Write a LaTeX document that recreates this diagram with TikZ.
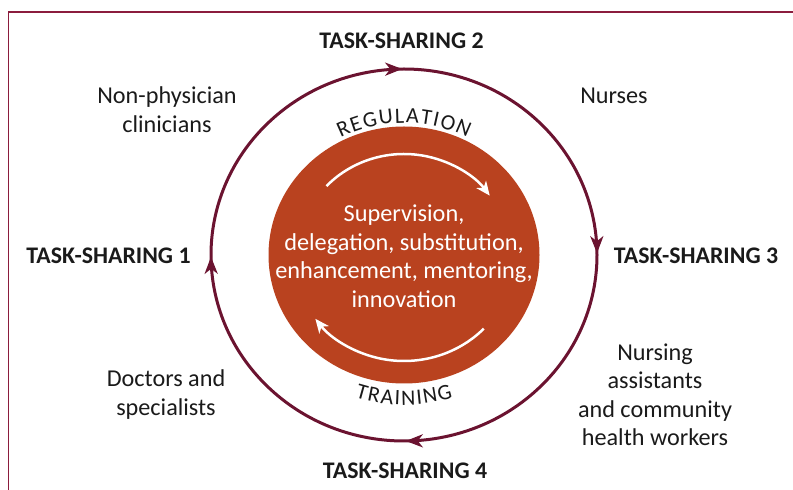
\documentclass[tikz,border=0pt]{standalone}
\usepackage{fontspec}
\setmainfont{Carlito}
\newfontfamily\arcfam[WordSpace=0.3]{Carlito}
\usetikzlibrary{arrows.meta,decorations.markings,decorations.text,shapes.geometric}
\definecolor{frameline}{HTML}{8B1C3D}
\definecolor{ring}{HTML}{6B1330}
\definecolor{core}{HTML}{B9421F}
\definecolor{ink}{HTML}{1A1A1A}

\tikzset{
  caption/.style={font=\fontsize{24.2}{28.5}\selectfont, text=ink, align=center, inner sep=0pt},
  stage/.style={font=\bfseries\fontsize{23.8}{26}\selectfont, text=ink, anchor=base, inner sep=0pt},
  ringtip/.tip={Stealth[length=17pt, width=13pt, inset=5pt]},
  flowtip/.tip={Stealth[length=14pt, width=12pt, inset=4pt]},
}
% spaced capitals for the curved captions
\newcommand\arcfont{\arcfam\fontsize{22}{22}\selectfont}

\begin{document}
\begin{tikzpicture}[x=1pt, y=1pt]
\useasboundingbox (0,0) rectangle (793,490);

% frame along the top and left edges
\draw[frameline, line width=1.5pt] (8.5,0) -- (8.5,478) -- (793,478);

\coordinate (c) at (404,235);

% outer cycle, clockwise, with four arrowheads
\draw[ring, line width=3pt, postaction={decorate},
  decoration={markings,
    mark=at position 0.125 with {\arrow{ringtip}},
    mark=at position 0.375 with {\arrow{ringtip}},
    mark=at position 0.625 with {\arrow{ringtip}},
    mark=at position 0.875 with {\arrow{ringtip}}}]
  ([shift={(135:193 and 186)}]c) arc[start angle=135, end angle=-225, x radius=193, y radius=186];

% central disc
\node (disc) [ellipse, fill=core, inner sep=0pt, minimum width=271pt, minimum height=257pt] at (c) {};

% white circulation arrows inside the disc
\draw[white, line width=2.5pt, -{flowtip}]
  ([shift={(137:106 and 101)}]c) arc[start angle=137, end angle=36, x radius=106, y radius=101];
\draw[white, line width=2.5pt, -{flowtip}]
  ([shift={(-44:111 and 106)}]c) arc[start angle=-44, end angle=-143, x radius=111, y radius=106];

\node (coretext) [font=\fontsize{24.3}{28.5}\selectfont, text=white, align=center, inner sep=0pt] at (404,234)
  {Supervision,\\delegation, substitution,\\enhancement, mentoring,\\innovation};

% curved captions around the disc
\path[decorate, decoration={text along path, text color=ink,
    text={|\arcfont|R E G U L A T I O N}, text align=center}]
  ([shift={(160:138 and 132)}]c) arc[start angle=160, end angle=20, x radius=138, y radius=132];
\path[decorate, decoration={text along path, text color=ink,
    text={|\arcfont|T R A I N I N G}, text align=center}]
  ([shift={(200:156 and 150)}]c) arc[start angle=200, end angle=340, x radius=156, y radius=150];

% stage labels
\node (ts2) [stage] at (401.5,441.5) {TASK-SHARING 2};
\node (ts1) [stage] at (108.5,226.5) {TASK-SHARING 1};
\node (ts3) [stage] at (696,226.5) {TASK-SHARING 3};
\node (ts4) [stage] at (405,11.7) {TASK-SHARING 4};

% worker groups
\node (npc) [caption] at (167,380.5) {Non-physician\\clinicians};
\node (nurses) [caption] at (614,394) {Nurses};
\node (docs) [caption] at (166,95.5) {Doctors and\\specialists};
\node (chw) [caption] at (655,95) {Nursing\\assistants\\and community\\health workers};
\end{tikzpicture}
\end{document}
